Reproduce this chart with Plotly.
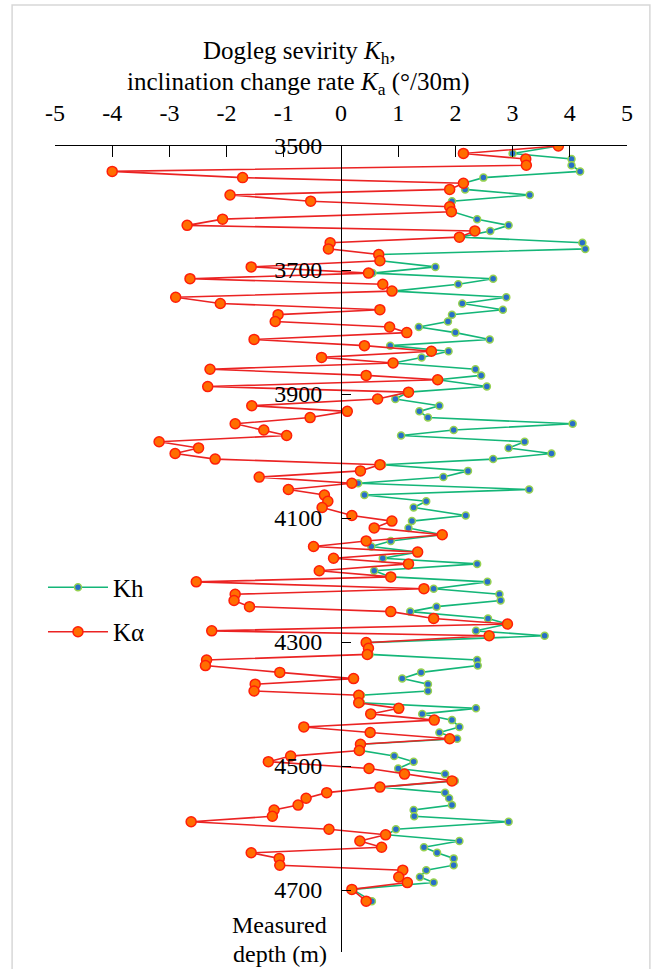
import plotly.graph_objects as go

depth = [3500, 3512, 3521, 3531, 3541, 3551, 3560, 3570, 3579, 3589,
         3598, 3606, 3618, 3628, 3637, 3647, 3656, 3666, 3675, 3685,
         3695, 3705, 3714, 3723, 3734, 3744, 3754, 3764, 3772, 3783,
         3792, 3801, 3812, 3822, 3831, 3841, 3850, 3860, 3870, 3877,
         3888, 3897, 3908, 3919, 3928, 3938, 3948, 3958, 3967, 3977,
         3987, 3996, 4005, 4014, 4024, 4034, 4044, 4054, 4063, 4073,
         4083, 4096, 4105, 4116, 4127, 4137, 4146, 4155, 4165, 4174,
         4185, 4195, 4203, 4214, 4223, 4233, 4243, 4251, 4262, 4271,
         4282, 4290, 4301, 4310, 4320, 4329, 4338, 4349, 4359, 4368,
         4379, 4386, 4398, 4407, 4416, 4426, 4437, 4446, 4456, 4465,
         4475, 4484, 4493, 4504, 4513, 4524, 4534, 4543, 4552, 4563,
         4571, 4581, 4590, 4602, 4611, 4621, 4631, 4640, 4649, 4660,
         4668, 4679, 4688, 4699, 4718]

kh = [3.80, 3.00, 4.03, 4.03, 4.18, 2.49, 2.14, 2.17, 3.30, 1.94,
      1.92, 1.95, 2.38, 2.93, 2.61, 2.09, 4.22, 4.27, 0.68, 0.70,
      1.65, 0.55, 2.66, 2.05, 0.92, 2.89, 2.12, 2.83, 1.94, 1.87,
      1.36, 2.00, 2.60, 0.86, 1.88, 1.41, 0.92, 2.35, 2.45, 1.69,
      2.55, 1.18, 0.95, 1.72, 1.37, 1.52, 4.05, 1.97, 1.05, 3.21,
      2.93, 3.68, 2.66, 0.72, 2.22, 1.79, 0.30, 3.29, 0.41, 1.49,
      1.27, 2.18, 1.24, 1.18, 1.77, 0.87, 0.53, 1.34, 0.73, 2.38,
      0.58, 0.87, 2.56, 1.62, 2.77, 2.79, 1.67, 1.21, 2.57, 2.91,
      2.36, 3.56, 0.46, 0.48, 0.50, 2.38, 2.39, 1.40, 1.07, 1.52,
      1.52, 0.35, 0.35, 2.36, 1.42, 1.94, 2.07, 1.72, 2.03, 0.36,
      0.35, 0.93, 1.27, 1.00, 1.82, 1.99, 0.70, 1.82, 1.89, 1.94,
      1.27, 1.28, 2.93, 0.96, 0.80, 2.07, 1.45, 1.68, 1.97, 1.97,
      1.49, 1.38, 1.62, 0.20, 0.54]

ka = [3.80, 2.14, 3.23, 3.24, -4.00, -1.72, 2.14, 1.90, -1.94, -0.53,
      1.90, 1.93, -2.07, -2.69, 2.34, 2.07, -0.19, -0.22, 0.66, 0.68,
      -1.57, 0.48, -2.64, 0.73, 0.89, -2.89, -2.11, 0.68, -1.10, -1.15,
      0.85, 1.15, -1.52, 0.41, 1.58, -0.34, 0.91, -2.29, 0.44, 1.69,
      -2.33, 1.18, 0.64, -1.56, 0.11, -0.54, -1.85, -1.35, -0.95, -3.18,
      -2.49, -2.90, -2.20, 0.68, 0.34, -1.43, 0.19, -0.92, -0.29, -0.23,
      -0.33, 0.19, 0.89, 0.58, 1.77, 0.44, -0.48, 1.34, -0.13, 1.18,
      -0.38, 0.87, -2.53, 1.45, -1.85, -1.87, -1.60, 0.87, 1.62, 2.91,
      -2.26, 2.59, 0.44, 0.48, 0.46, -2.35, -2.37, -1.07, 0.22, -1.50,
      -1.52, 0.31, 0.31, 1.01, 0.52, 1.63, -0.65, 0.51, 1.90, 0.34,
      0.32, -0.88, -1.27, 0.49, 1.11, 1.94, 0.68, -0.25, -0.61, -0.75,
      -1.17, -1.20, -2.62, -0.21, 0.78, 0.33, 0.71, -1.57, -1.08, -1.07,
      1.08, 1.01, 1.16, 0.19, 0.44]

x_ticks = [-5, -4, -3, -2, -1, 0, 1, 2, 3, 4, 5]
x_tick_labels = ["-5", "-4", "-3", "-2", "-1", "0", "1", "2", "3", "4", "5"]
y_ticks = [3500, 3700, 3900, 4100, 4300, 4500, 4700]
y_tick_labels = ["3500", "3700", "3900", "4100", "4300", "4500", "4700"]

FONT = "Liberation Serif"

fig = go.Figure()
fig.add_trace(go.Scatter(
    x=kh, y=depth, name="Kh", mode="lines+markers", legendgroup="a",
    line=dict(color="rgb(20,182,120)", width=1.6),
    marker=dict(size=7, color="rgb(40,110,200)",
                line=dict(color="rgb(150,210,80)", width=1.5)),
))
fig.add_trace(go.Scatter(
    x=ka, y=depth, name="Kα", mode="lines+markers", legendgroup="b",
    line=dict(color="rgb(235,35,35)", width=1.6),
    marker=dict(size=10, color="rgb(255,110,0)",
                line=dict(color="rgb(255,30,10)", width=1.5)),
))

fig.update_layout(
    width=654, height=969,
    margin=dict(l=55, r=27, t=146, b=17, autoexpand=False),
    paper_bgcolor="white", plot_bgcolor="white",
    font=dict(family=FONT, size=24, color="black"),
    showlegend=True,
    legend=dict(x=-0.021, y=0.425, xanchor="left", yanchor="middle",
                bgcolor="rgba(0,0,0,0)", font=dict(family=FONT, size=25),
                tracegroupgap=9, traceorder="grouped", itemwidth=60),
    xaxis=dict(range=[-5, 5], side="top", tickvals=x_ticks,
               ticktext=x_tick_labels,
               ticks="inside", ticklen=11, tickcolor="black",
               showline=True, linecolor="black", linewidth=1,
               showgrid=False, zeroline=False, ticklabelstandoff=14,
               tickfont=dict(family=FONT, size=24)),
    yaxis=dict(range=[4800, 3500], anchor="free", position=0.5,
               tickvals=y_ticks, ticktext=y_tick_labels,
               ticks="inside", ticklen=9,
               tickcolor="black", showline=True, linecolor="black",
               linewidth=1, showgrid=False, zeroline=False,
               ticklabelstandoff=14, tickfont=dict(family=FONT, size=24)),
    shapes=[
        dict(type="rect", xref="paper", yref="paper",
             x0=-0.075, x1=1.04, y0=-0.05, y1=1.175,
             line=dict(color="rgb(215,215,215)", width=1.5),
             fillcolor="rgba(0,0,0,0)", layer="below"),
    ],
    annotations=[
        dict(text="Dogleg sevirity <i>K</i><sub>h</sub>,", x=0.428, y=1.1154,
             xref="paper", yref="paper", showarrow=False,
             xanchor="center", yanchor="middle",
             font=dict(family=FONT, size=25)),
        dict(text="inclination change rate <i>K</i><sub>a</sub> (°/30m)",
             x=0.425, y=1.078, xref="paper", yref="paper", showarrow=False,
             xanchor="center", yanchor="middle",
             font=dict(family=FONT, size=25)),
        dict(text="Measured", x=0.479, y=0.0335, xref="paper", yref="paper",
             showarrow=False, xanchor="right", yanchor="middle",
             font=dict(family=FONT, size=24)),
        dict(text="depth (m)", x=0.479, y=-0.003, xref="paper", yref="paper",
             showarrow=False, xanchor="right", yanchor="middle",
             font=dict(family=FONT, size=24)),
    ],
)

fig.write_html("out.html", config={"displayModeBar": False},
               post_script="document.body.style.margin='0';")
